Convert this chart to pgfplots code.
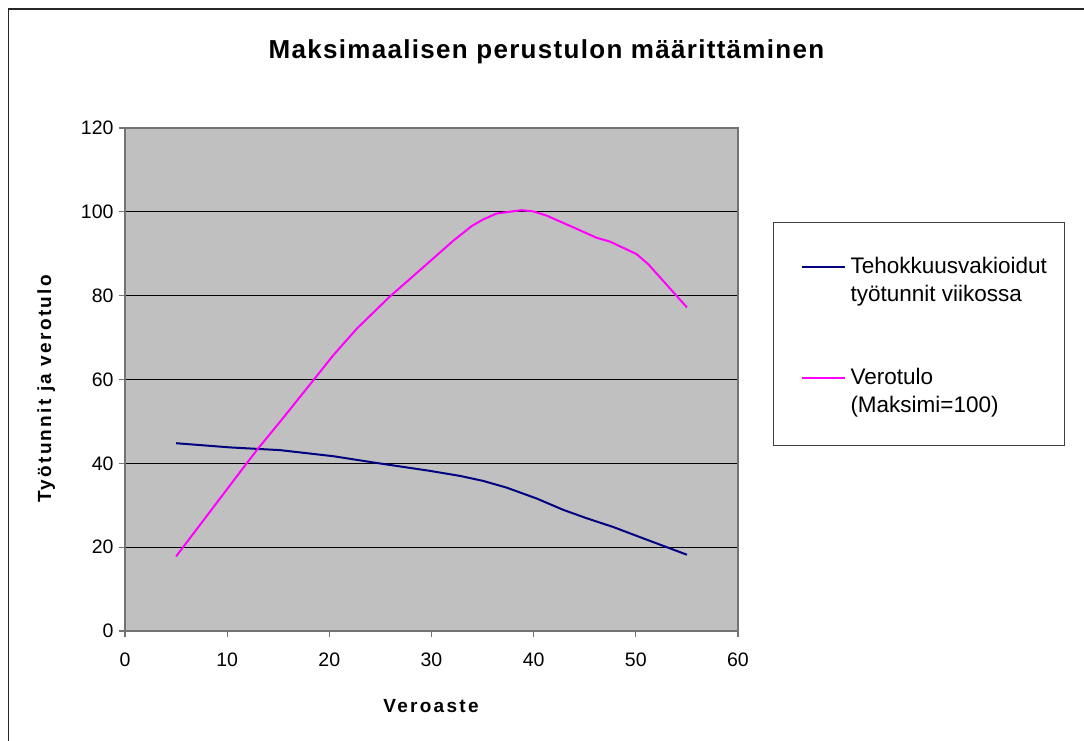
\documentclass[border=0pt]{standalone}
\usepackage{fontspec}
\setmainfont{Liberation Sans}
\usepackage{pgfplots}
\pgfplotsset{compat=1.18}
\definecolor{navyline}{RGB}{0,0,128}
\definecolor{magline}{RGB}{255,0,255}
\definecolor{plotgray}{RGB}{192,192,192}
\pgfplotsset{
  legA/.style={legend image code/.code={\draw[##1] (0pt,42pt) -- (43pt,42pt);}},
  legB/.style={legend image code/.code={\draw[##1] (0pt,11pt) -- (43pt,11pt);}},
}
\begin{document}
\begin{tikzpicture}[x=1pt,y=1pt]
\useasboundingbox (0,0) rectangle (1084,740);
\draw[line width=1.5pt, black!85] (8.5,-20) -- (8.5,731) -- (1110,731);
\node[anchor=base, font=\bfseries\fontsize{26}{30}\selectfont\addfontfeature{LetterSpace=5}] at (546.5,681.7) {Maksimaalisen perustulon määrittäminen};
\begin{axis}[
  at={(125pt,109pt)}, anchor=south west,
  width=613pt, height=503pt, scale only axis,
  xmin=0, xmax=60, ymin=0, ymax=120,
  xtick={0,10,...,60}, ytick={0,20,...,120},
  axis background/.style={fill=plotgray},
  ymajorgrids, major grid style={black, line width=1pt},
  tick align=outside, tick pos=left, major tick length=6pt,
  axis line style={draw=black!55, line width=1.3pt},
  every tick/.style={black!55, line width=1.3pt},
  /pgf/number format/assume math mode=true,
  ticklabel style={font=\fontsize{19.5}{22}\selectfont},
  xticklabel style={yshift=-12pt},
  yticklabel style={xshift=-2pt},
  xlabel={Veroaste}, ylabel={Työtunnit ja verotulo},
  label style={font=\bfseries\fontsize{19}{22}\selectfont\addfontfeature{LetterSpace=12}},
  xlabel style={at={(axis description cs:0.4992,-0.1624)}, anchor=base},
  ylabel style={at={(axis description cs:-0.1204,0.4811)}, anchor=base},
  legend style={
    at={(axis description cs:1.0571,0.8131)}, anchor=north west,
    draw=black!75, line width=1pt, fill=white,
    inner xsep=27pt, inner ysep=31.4pt,
    font=\fontsize{22.5}{28}\selectfont,
    nodes={inner sep=0pt, text depth=},
    row sep=0pt,
    cells={anchor=west},
    /tikz/every odd column/.append style={column sep=5pt},
  },
  legend cell align=left,
]
\addplot[navyline, line width=2pt, legA] coordinates {
 (5.0,44.8) (10.28,43.8) (15.17,43.15) (20.39,41.7) (24.6,40.1)
 (29.85,38.2) (32.79,37.0) (35.07,35.8) (37.36,34.2) (40.3,31.6)
 (42.9,28.9) (45.19,26.9) (47.8,24.8) (50.4,22.4) (55.0,18.2)
};
\addlegendentry{\parbox[c][111pt][t]{187pt}{\strut Tehokkuusvakioidut\\työtunnit viikossa}}
\addplot[magline, line width=2pt, legB] coordinates {
 (5.0,17.8) (11.91,40.0) (13.05,43.6) (15.17,49.9) (18.43,59.8)
 (20.39,65.8) (22.68,72.1) (25.84,79.6) (29.2,86.8) (30.83,90.3)
 (32.13,93.1) (33.93,96.6) (35.07,98.2) (36.38,99.6) (38.83,100.4)
 (39.96,100.1) (41.27,99.1) (43.88,96.3) (46.17,93.8) (47.47,92.9)
 (50.08,89.9) (51.22,87.5) (55.0,77.2)
};
\addlegendentry{\parbox[c][49pt][t]{187pt}{\strut Verotulo\\(Maksimi=100)}}
\end{axis}
\end{tikzpicture}
\end{document}
